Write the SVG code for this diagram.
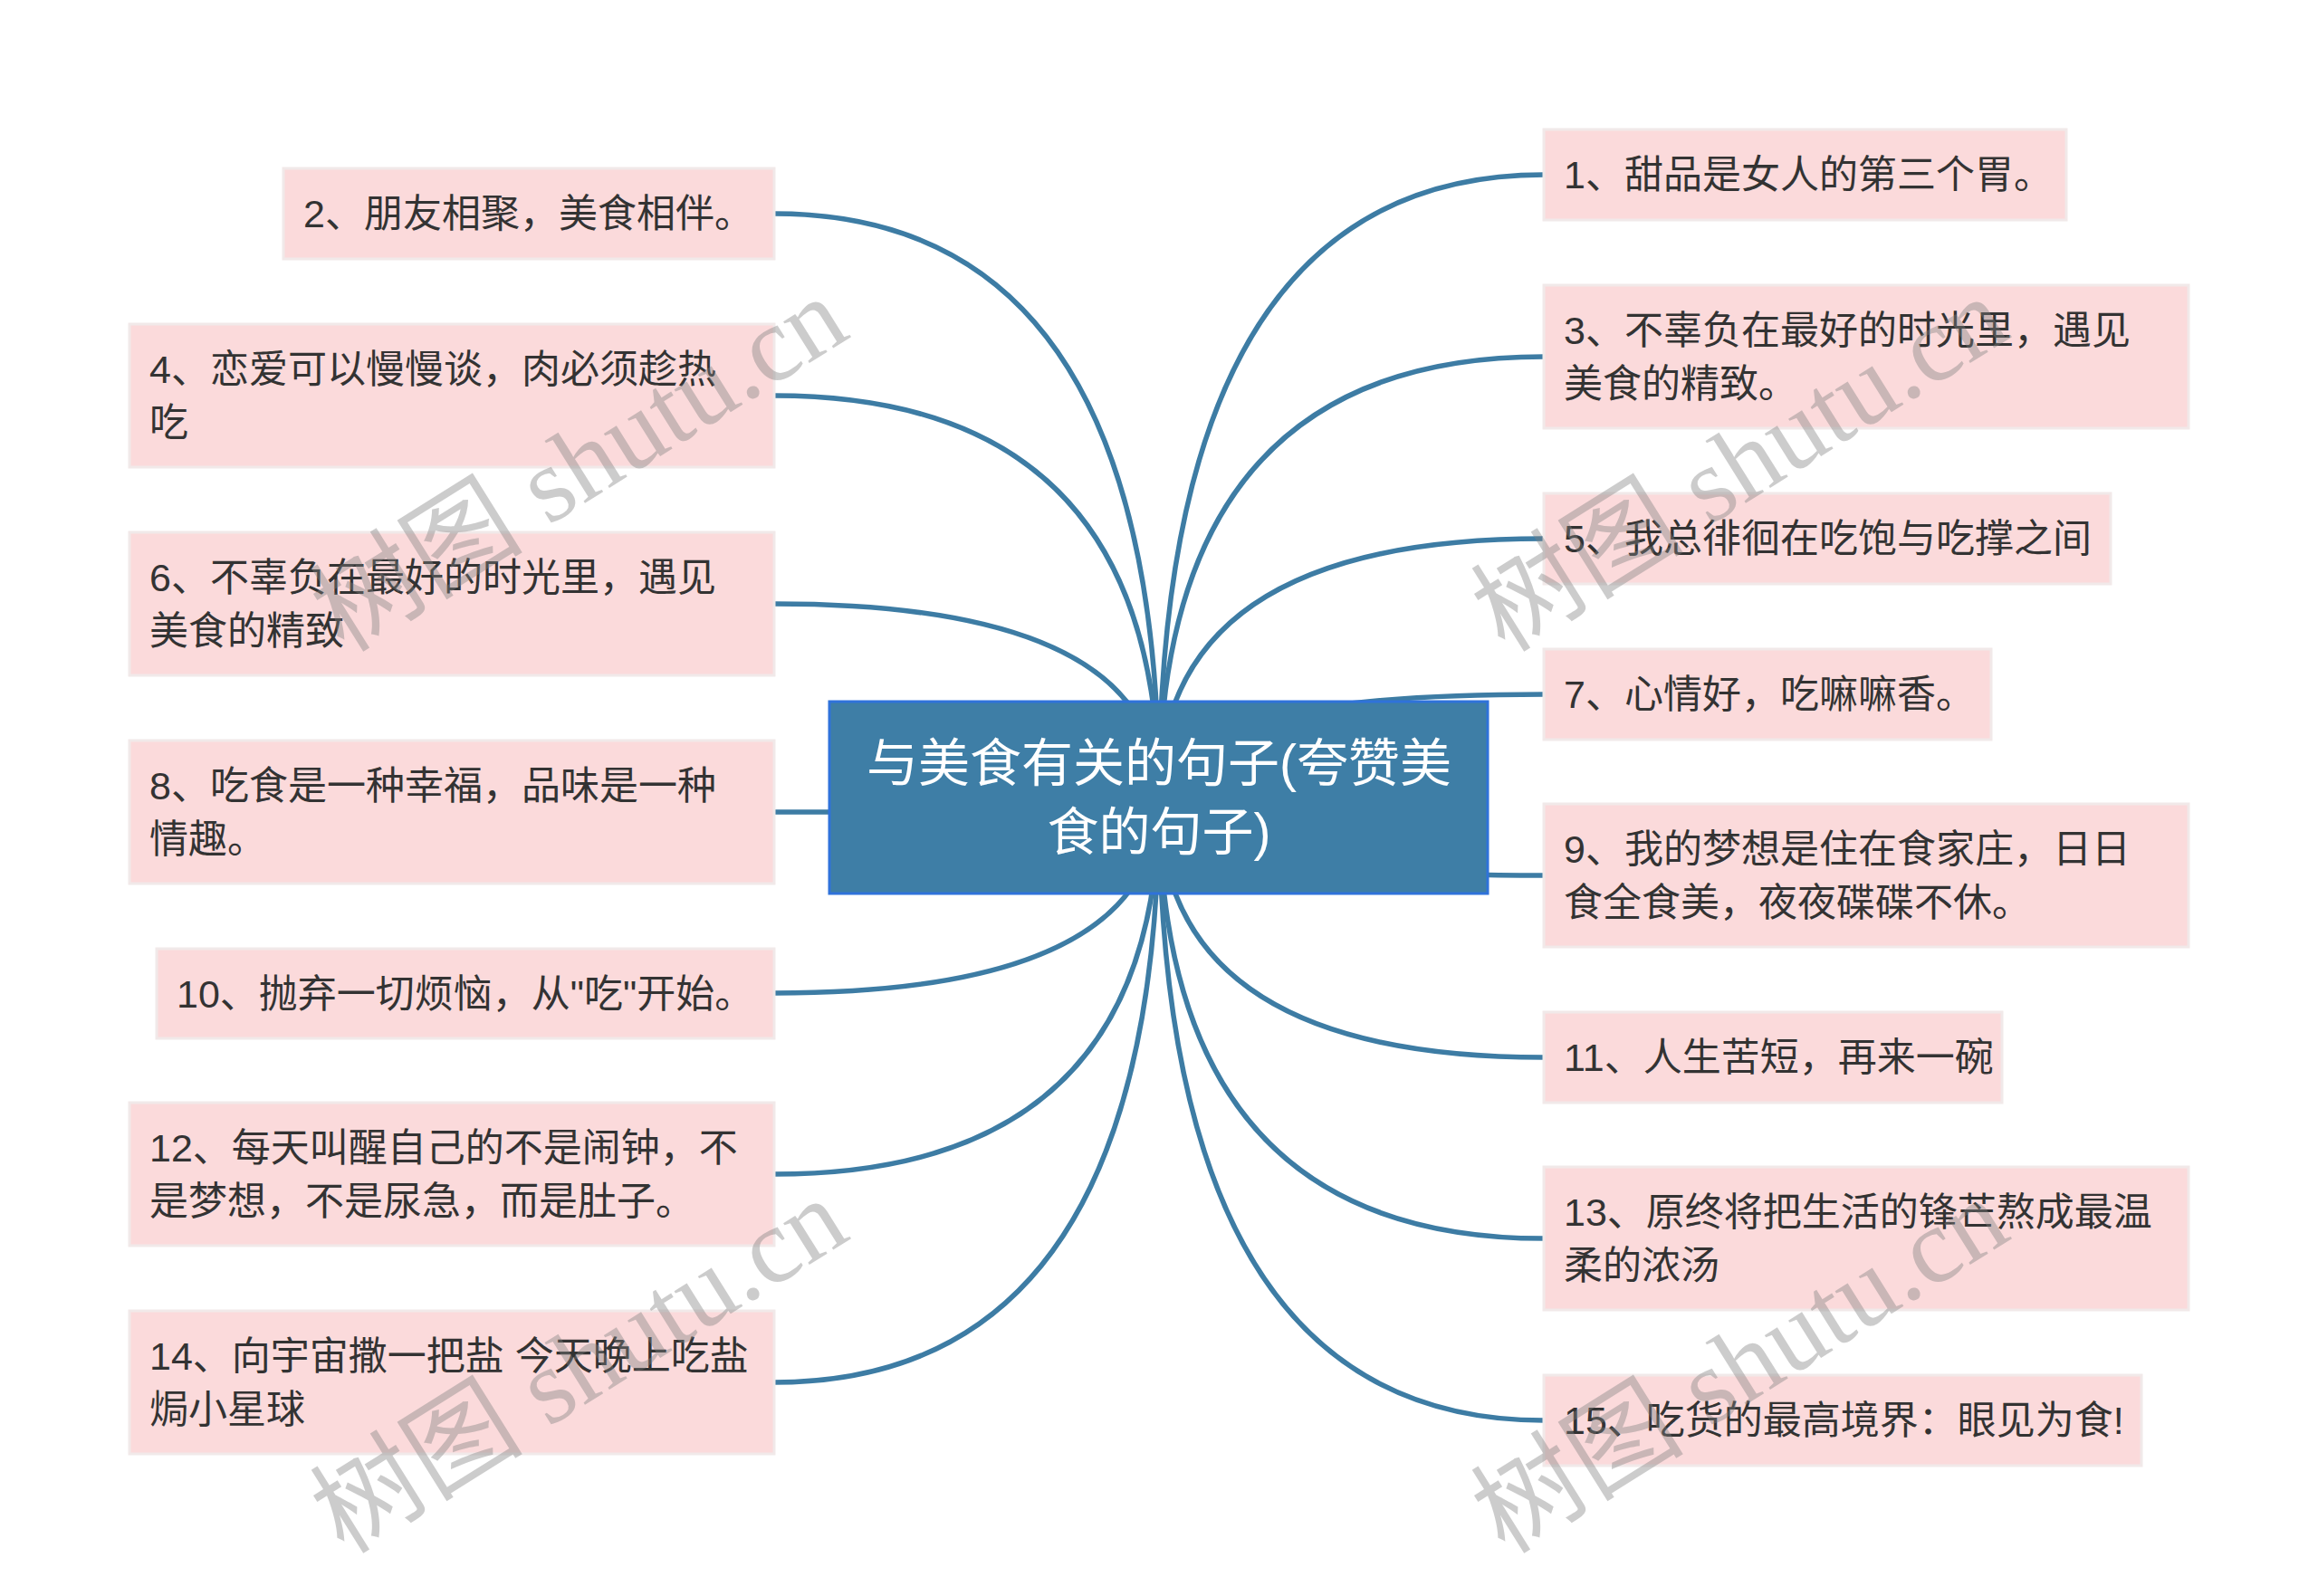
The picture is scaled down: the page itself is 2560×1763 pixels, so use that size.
<svg xmlns="http://www.w3.org/2000/svg" width="2560" height="1763" viewBox="0 0 2560 1763">
<style>
.bg{fill:#ffffff}
.conn path{fill:none;stroke:#3D7CA4;stroke-width:5.5;stroke-linecap:round}
.box{fill:#FBDADB;stroke:#F1E9E9;stroke-width:3}
.t{font-family:"Liberation Sans","Noto Sans CJK SC",sans-serif;font-size:43px;fill:#333333;dominant-baseline:central}
.root-rect{fill:#3E7EA6;stroke:#2F72DA;stroke-width:3}
.rt{font-family:"Liberation Sans","Noto Sans CJK SC",sans-serif;font-size:57px;fill:#ffffff;text-anchor:middle;dominant-baseline:central}
.wm{font-family:"Liberation Serif","Noto Sans CJK SC",serif;font-size:118px;fill:#808080;fill-opacity:0.4}
</style>
<rect class="bg" x="0" y="0" width="2560" height="1763"/>
<g id="connectors" class="conn">
<path d="M855,236 Q1280,236 1280,881"/>
<path d="M855,437 Q1280,437 1280,881"/>
<path d="M855,667 Q1280,667 1280,881"/>
<path d="M855,897 Q1280,897 1280,881"/>
<path d="M855,1097 Q1280,1097 1280,881"/>
<path d="M855,1297 Q1280,1297 1280,881"/>
<path d="M855,1527 Q1280,1527 1280,881"/>
<path d="M1705,193 Q1280,193 1280,881"/>
<path d="M1705,394 Q1280,394 1280,881"/>
<path d="M1705,595 Q1280,595 1280,881"/>
<path d="M1705,767 Q1280,767 1280,881"/>
<path d="M1705,967 Q1280,967 1280,881"/>
<path d="M1705,1168 Q1280,1168 1280,881"/>
<path d="M1705,1368 Q1280,1368 1280,881"/>
<path d="M1705,1569 Q1280,1569 1280,881"/>
</g>
<g id="root">
<rect class="root-rect" x="916" y="775" width="727" height="212"/>
<text class="rt" x="1280" y="843">与美食有关的句子(夸赞美</text>
<text class="rt" x="1280" y="919">食的句子)</text>
</g>
<g id="n2"><rect class="box" x="313" y="186" width="542" height="100"/><text class="t" x="335" y="236">2、朋友相聚，美食相伴。</text></g>
<g id="n4"><rect class="box" x="143" y="358" width="712" height="158"/><text class="t" x="165" y="407.5">4、恋爱可以慢慢谈，肉必须趁热</text><text class="t" x="165" y="466.5">吃</text></g>
<g id="n6"><rect class="box" x="143" y="588" width="712" height="158"/><text class="t" x="165" y="637.5">6、不辜负在最好的时光里，遇见</text><text class="t" x="165" y="696.5">美食的精致</text></g>
<g id="n8"><rect class="box" x="143" y="818" width="712" height="158"/><text class="t" x="165" y="867.5">8、吃食是一种幸福，品味是一种</text><text class="t" x="165" y="926.5">情趣。</text></g>
<g id="n10"><rect class="box" x="173" y="1048" width="682" height="99"/><text class="t" x="195" y="1097.5">10、抛弃一切烦恼，从"吃"开始。</text></g>
<g id="n12"><rect class="box" x="143" y="1218" width="712" height="158"/><text class="t" x="165" y="1267.5">12、每天叫醒自己的不是闹钟，不</text><text class="t" x="165" y="1326.5">是梦想，不是尿急，而是肚子。</text></g>
<g id="n14"><rect class="box" x="143" y="1448" width="712" height="158"/><text class="t" x="165" y="1497.5">14、向宇宙撒一把盐 今天晚上吃盐</text><text class="t" x="165" y="1556.5">焗小星球</text></g>
<g id="n1"><rect class="box" x="1705" y="143" width="577" height="100"/><text class="t" x="1727" y="193">1、甜品是女人的第三个胃。</text></g>
<g id="n3"><rect class="box" x="1705" y="315" width="712" height="158"/><text class="t" x="1727" y="364.5">3、不辜负在最好的时光里，遇见</text><text class="t" x="1727" y="423.5">美食的精致。</text></g>
<g id="n5"><rect class="box" x="1705" y="545" width="626" height="100"/><text class="t" x="1727" y="595">5、我总徘徊在吃饱与吃撑之间</text></g>
<g id="n7"><rect class="box" x="1705" y="717" width="494" height="100"/><text class="t" x="1727" y="767">7、心情好，吃嘛嘛香。</text></g>
<g id="n9"><rect class="box" x="1705" y="888" width="712" height="158"/><text class="t" x="1727" y="937.5">9、我的梦想是住在食家庄，日日</text><text class="t" x="1727" y="996.5">食全食美，夜夜碟碟不休。</text></g>
<g id="n11"><rect class="box" x="1705" y="1118" width="506" height="100"/><text class="t" x="1727" y="1168">11、人生苦短，再来一碗</text></g>
<g id="n13"><rect class="box" x="1705" y="1289" width="712" height="158"/><text class="t" x="1727" y="1338.5">13、原终将把生活的锋芒熬成最温</text><text class="t" x="1727" y="1397.5">柔的浓汤</text></g>
<g id="n15"><rect class="box" x="1705" y="1519" width="660" height="100"/><text class="t" x="1727" y="1569">15、吃货的最高境界：眼见为食!</text></g>
<g id="watermarks">
<text class="wm" transform="translate(380,722) rotate(-32)">树图 shutu.cn</text>
<text class="wm" transform="translate(1662,722) rotate(-32)">树图 shutu.cn</text>
<text class="wm" transform="translate(380,1718) rotate(-32)">树图 shutu.cn</text>
<text class="wm" transform="translate(1662,1718) rotate(-32)">树图 shutu.cn</text>
</g>
</svg>
